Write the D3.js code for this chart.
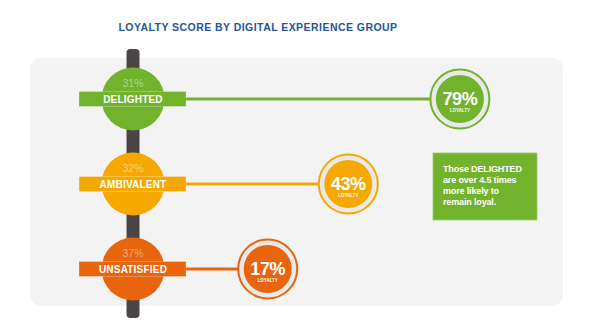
<!DOCTYPE html>
<html><head><meta charset="utf-8">
<script src="https://cdn.jsdelivr.net/npm/d3@7"></script>
<style>
html,body{margin:0;padding:0;background:#fff;}
svg{display:block;font-family:"Liberation Sans",Arial,sans-serif;}
</style></head>
<body>
<script>
const title = "LOYALTY SCORE BY DIGITAL EXPERIENCE GROUP";
const groups = ["DELIGHTED", "AMBIVALENT", "UNSATISFIED"];
const groupShare = [31, 32, 37];
const loyalty = [79, 43, 17];
const colors = ["#71b32c", "#f5a800", "#e8650d"];
const shareColors = ["#b3d889", "#fad27e", "#f3a677"];
const calloutLines = [["Those ", "DELIGHTED"], ["are over 4.5 times"], ["more likely to"], ["remain loyal."]];

const W = 600, H = 329;
const svg = d3.select("body").append("svg").attr("width", W).attr("height", H);

svg.append("text").attr("x", 258).attr("y", 31).attr("text-anchor", "middle")
  .attr("fill", "#24569a").attr("font-size", 10.5).attr("font-weight", "bold")
  .attr("letter-spacing", 0.45).text(title);

// panel
svg.append("rect").attr("x", 30).attr("y", 58).attr("width", 533).attr("height", 248)
  .attr("rx", 11).attr("fill", "#f3f3f3");

const y = d3.scalePoint().domain(groups).range([99, 269]);
const x = d3.scaleLinear().domain([0, 100]).range([215, 525]);
const cx = 133;

// vertical bar
svg.append("rect").attr("x", cx - 6.5).attr("y", 49).attr("width", 13).attr("height", 269)
  .attr("rx", 4).attr("fill", "#4a4646");

const data = groups.map((g, i) => ({g, share: groupShare[i], loy: loyalty[i], c: colors[i], sc: shareColors[i]}));

const grp = svg.selectAll("g.grp").data(data).join("g").attr("class", "grp");

// connector lines
grp.append("line").attr("x1", 186).attr("x2", d => x(d.loy)).attr("y1", d => y(d.g)).attr("y2", d => y(d.g))
  .attr("stroke", d => d.c).attr("stroke-width", 3);

// left circles
grp.append("circle").attr("cx", cx).attr("cy", d => y(d.g)).attr("r", 31.5).attr("fill", d => d.c);
grp.append("text").attr("x", cx).attr("y", d => y(d.g) - 12).attr("text-anchor", "middle")
  .attr("font-size", 10.5).attr("fill", d => d.sc).text(d => d.share + "%");
grp.append("rect").attr("x", 79).attr("y", d => y(d.g) - 7.5).attr("width", 107).attr("height", 15)
  .attr("fill", d => d.c).attr("stroke", "#ffffff").attr("stroke-opacity", 0.35).attr("stroke-width", 0.8);
grp.append("text").attr("x", cx).attr("y", d => y(d.g) + 3.8).attr("text-anchor", "middle")
  .attr("font-size", 10).attr("font-weight", "bold").attr("fill", "#fff").attr("letter-spacing", 0.2)
  .text(d => d.g);

// loyalty circles
grp.append("circle").attr("cx", d => x(d.loy)).attr("cy", d => y(d.g)).attr("r", 29.5)
  .attr("fill", "#e9e9e9").attr("stroke", d => d.c).attr("stroke-width", 2);
grp.append("circle").attr("cx", d => x(d.loy)).attr("cy", d => y(d.g)).attr("r", 24).attr("fill", d => d.c);
grp.append("text").attr("x", d => x(d.loy)).attr("y", d => y(d.g) + 5.5).attr("text-anchor", "middle")
  .attr("font-size", 18).attr("font-weight", "bold").attr("fill", "#fff").attr("letter-spacing", -0.4)
  .text(d => d.loy + "%");
grp.append("text").attr("x", d => x(d.loy)).attr("y", d => y(d.g) + 13).attr("text-anchor", "middle")
  .attr("font-size", 4.5).attr("font-weight", "bold").attr("fill", "#fff").text("LOYALTY");

// callout
svg.append("rect").attr("x", 433).attr("y", 153).attr("width", 104).attr("height", 67)
  .attr("fill", colors[0]).attr("stroke", "#9ccd6c").attr("stroke-width", 0.8);
const ct = svg.append("text").attr("font-size", 9).attr("font-weight", "bold").attr("fill", "#fff")
  .attr("letter-spacing", -0.15);
calloutLines.forEach((parts, i) => {
  const t = ct.append("tspan").attr("x", 443).attr("y", 172 + i * 11);
  parts.forEach(p => t.append("tspan").text(p));
});
</script>
</body></html>
